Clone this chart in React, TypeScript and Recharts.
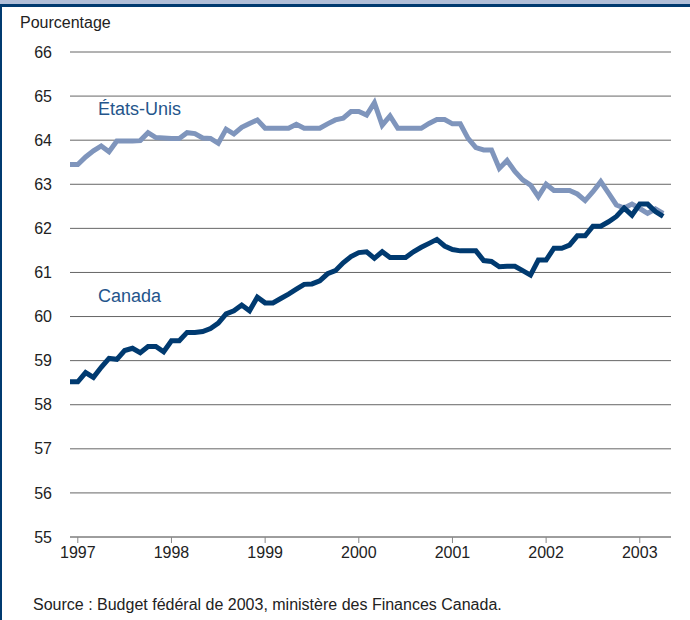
import React from 'react';
import { LineChart, Line, XAxis, YAxis, CartesianGrid } from 'recharts';

// months: index 0 = Dec 1996 ... 76 = Apr 2003
const etatsUnis = [
  63.45, 63.45, 63.62, 63.76, 63.87, 63.74, 63.98, 63.98, 63.98, 63.99,
  64.17, 64.06, 64.05, 64.04, 64.04, 64.17, 64.15, 64.05, 64.04, 63.93,
  64.25, 64.14, 64.29, 64.38, 64.46, 64.27, 64.27, 64.27, 64.27, 64.36,
  64.27, 64.27, 64.27, 64.37, 64.46, 64.5, 64.65, 64.65, 64.57, 64.85,
  64.34, 64.55, 64.27, 64.27, 64.27, 64.27, 64.38, 64.47, 64.47, 64.37,
  64.37, 64.04, 63.83, 63.78, 63.78, 63.36, 63.54, 63.29, 63.1, 62.98,
  62.72, 63.0, 62.86, 62.86, 62.86, 62.78, 62.63, 62.83, 63.06, 62.8,
  62.53, 62.46, 62.55, 62.45, 62.34, 62.44, 62.34,
];

const canada = [
  58.52, 58.52, 58.73, 58.62, 58.85, 59.05, 59.03, 59.23, 59.28, 59.18,
  59.32, 59.32, 59.2, 59.45, 59.45, 59.64, 59.64, 59.66, 59.73, 59.85,
  60.06, 60.13, 60.26, 60.13, 60.44, 60.31, 60.31, 60.41, 60.51, 60.62,
  60.73, 60.74, 60.81, 60.97, 61.04, 61.22, 61.36, 61.45, 61.47, 61.32,
  61.47, 61.34, 61.34, 61.34, 61.47, 61.57, 61.66, 61.75, 61.6, 61.52,
  61.49, 61.49, 61.49, 61.27, 61.25, 61.13, 61.14, 61.14, 61.04, 60.94,
  61.28, 61.28, 61.55, 61.55, 61.62, 61.83, 61.83, 62.05, 62.05, 62.15,
  62.27, 62.46, 62.3, 62.55, 62.55, 62.38, 62.27,
];

const yearTicks = [1, 13, 25, 37, 49, 61, 73];
const yearLabels = ['1997', '1998', '1999', '2000', '2001', '2002', '2003'];
const yTicks = [55, 56, 57, 58, 59, 60, 61, 62, 63, 64, 65, 66];

const data = canada.map((v, i) => ({ m: i, canada: v, us: etatsUnis[i] }));

const FONT = '"Liberation Sans", Arial, sans-serif';
const NAVY = '#003a70';
const LIGHT = '#7f95bc';

export default function App() {
  return (
    <div style={{ position: 'fixed', left: 0, top: 0, width: 690, height: 620, background: '#fff', overflow: 'hidden', fontFamily: FONT }}>
      <div style={{ position: 'absolute', left: 0, top: 0 }}>
        <LineChart width={690} height={570} data={data} margin={{ top: 52, right: 19, left: 40, bottom: 0 }}>
          <CartesianGrid horizontal vertical={false} stroke="#666" strokeWidth={1} />
          <XAxis
            dataKey="m"
            type="number"
            domain={[0, 77]}
            ticks={yearTicks}
            tickFormatter={(v: number) => yearLabels[yearTicks.indexOf(v)]}
            stroke="#888"
            tickSize={6}
            tickMargin={4}
            tick={{ fill: '#222', fontSize: 16, fontFamily: FONT }}
            height={33}
          />
          <YAxis
            domain={[55, 66]}
            ticks={yTicks}
            width={30}
            axisLine={false}
            tickLine={false}
            tickMargin={12}
            tick={{ fill: '#222', fontSize: 16, fontFamily: FONT }}
            interval={0}
          />
          <Line dataKey="us" stroke={LIGHT} strokeWidth={5} dot={false} isAnimationActive={false} strokeLinejoin="miter" />
          <Line dataKey="canada" stroke={NAVY} strokeWidth={5} dot={false} isAnimationActive={false} strokeLinejoin="miter" />
        </LineChart>
      </div>

      <div style={{ position: 'absolute', left: 0, top: 0, width: 690, height: 4, background: '#b1bfd9', zIndex: 2 }} />
      <div style={{ position: 'absolute', left: 0, top: 4, width: 690, height: 3, background: NAVY, zIndex: 2 }} />
      <div style={{ position: 'absolute', left: 0, top: 4, width: 2, height: 616, background: NAVY, zIndex: 2 }} />

      <div style={{ position: 'absolute', left: 20, top: 14, fontSize: 16, color: '#222' }}>Pourcentage</div>

      <div style={{ position: 'absolute', left: 98, top: 99, fontSize: 18, color: '#24558b' }}>États-Unis</div>
      <div style={{ position: 'absolute', left: 98, top: 286, fontSize: 18, color: '#24558b' }}>Canada</div>

      <div style={{ position: 'absolute', left: 33, top: 596, fontSize: 16, color: '#222' }}>
        Source : Budget fédéral de 2003, ministère des Finances Canada.
      </div>
    </div>
  );
}
